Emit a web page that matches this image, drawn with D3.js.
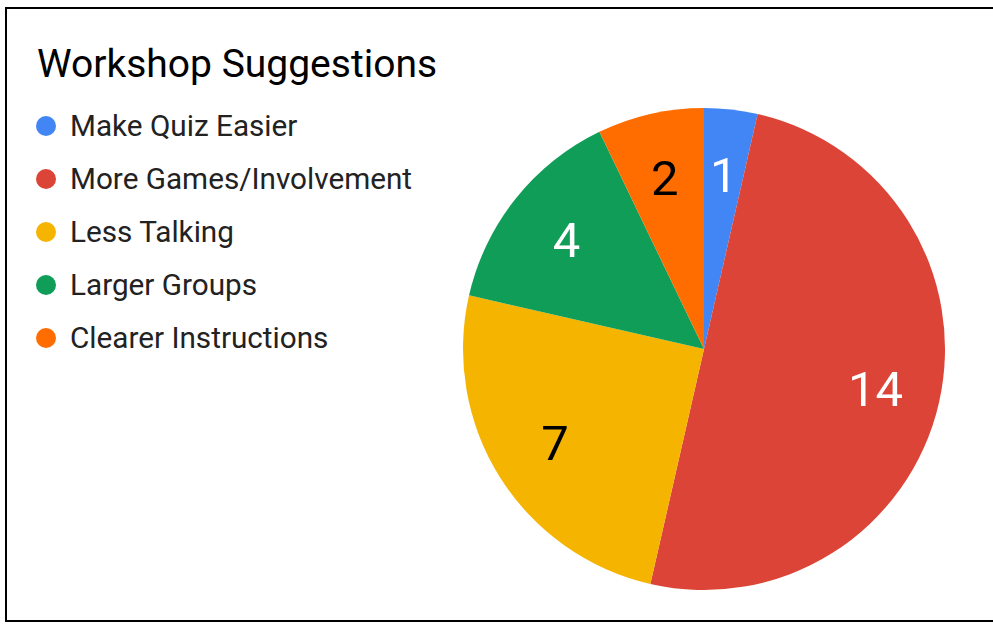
<!DOCTYPE html>
<html>
<head>
<meta charset="utf-8">
<script src="https://cdn.jsdelivr.net/npm/d3@7"></script>
<style>
  html, body { margin: 0; padding: 0; background: #fff; }
  svg { display: block; }
  text { font-family: Roboto, "Noto Sans", sans-serif; }
</style>
</head>
<body>
<svg id="chart" width="993" height="624"></svg>
<script>
// Workshop feedback counts
const title = "Workshop Suggestions";
const categories = ["Make Quiz Easier", "More Games/Involvement", "Less Talking", "Larger Groups", "Clearer Instructions"];
const values = [1, 14, 7, 4, 2];
const colors = ["#4285F4", "#DB4437", "#F4B400", "#0F9D58", "#FF6D00"];
const labelColors = ["#ffffff", "#ffffff", "#000000", "#ffffff", "#000000"];

const svg = d3.select("#chart");

// outer frame
svg.append("rect")
  .attr("x", 6).attr("y", 8)
  .attr("width", 1000).attr("height", 613)
  .attr("fill", "#fff")
  .attr("stroke", "#000")
  .attr("stroke-width", 2);

svg.append("text")
  .attr("x", 37).attr("y", 77)
  .attr("font-size", 39)
  .attr("fill", "#000")
  .text(title);

// legend
const color = d3.scaleOrdinal().domain(categories).range(colors);
const legendY = d3.scalePoint().domain(categories).range([126, 338]);
const legend = svg.append("g");
const item = legend.selectAll("g").data(categories).enter().append("g")
  .attr("transform", d => `translate(46,${legendY(d)})`);
item.append("circle").attr("r", 10).attr("fill", d => color(d));
item.append("text")
  .attr("x", 24).attr("y", 0)
  .attr("dy", "0.35em")
  .attr("font-size", 29.7)
  .attr("fill", "#222")
  .text(d => d);

// pie
const cx = 704, cy = 349, R = 241;
const data = categories.map((c, i) => ({ name: c, value: values[i], i }));
const pie = d3.pie().value(d => d.value).sort(null);
const arcs = pie(data);
const arc = d3.arc().innerRadius(0).outerRadius(R);
const labelArc = d3.arc().innerRadius(176).outerRadius(176);

const g = svg.append("g").attr("transform", `translate(${cx},${cy})`);
g.selectAll("path").data(arcs).enter().append("path")
  .attr("d", arc)
  .attr("fill", d => color(d.data.name));

g.selectAll("text.val").data(arcs).enter().append("text")
  .attr("class", "val")
  .attr("transform", d => `translate(${labelArc.centroid(d)})`)
  .attr("text-anchor", "middle")
  .attr("dy", "0.36em")
  .attr("font-size", 49)
  .attr("fill", d => labelColors[d.data.i])
  .text(d => d.data.value);
</script>
</body>
</html>
